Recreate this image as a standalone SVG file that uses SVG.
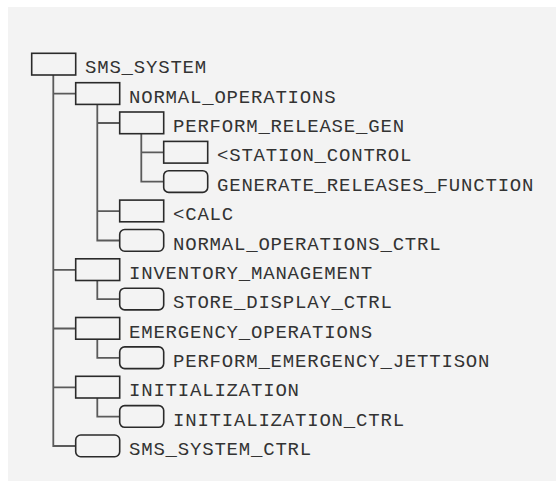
<svg xmlns="http://www.w3.org/2000/svg" width="556" height="481" viewBox="0 0 556 481">
<style>
.bx{fill:#f3f3f3;stroke:#2a2a2a;stroke-width:1.6}
.ln{fill:none;stroke:#5a5a5a;stroke-width:1.8}
.t{font-family:"Liberation Mono","DejaVu Sans Mono",monospace;font-size:19px;letter-spacing:0.8px;fill:#333}
</style>
<rect x="0" y="0" width="556" height="481" fill="#ffffff"/>
<rect x="8" y="7" width="548" height="474" fill="#f3f3f3"/>
<g id="connectors">
<path class="ln" d="M53.3,75 V446 H75.7 M53.3,93.7 H75.7 M53.3,269.8 H75.7 M53.3,328.5 H75.7 M53.3,387.3 H75.7"/>
<path class="ln" d="M97.3,104.4 V240.5 H119.7 M97.3,123 H119.7 M97.3,211.1 H119.7"/>
<path class="ln" d="M141.3,133.7 V181.7 H163.7 M141.3,152.4 H163.7"/>
<path class="ln" d="M97.3,280.5 V299.2 H119.7"/>
<path class="ln" d="M97.3,339.2 V357.9 H119.7"/>
<path class="ln" d="M97.3,398 V416.6 H119.7"/>
</g>
<g id="n0"><rect class="bx" x="31.7" y="53.3" width="44" height="21.7"/><text class="t" x="85" y="73.3">SMS_SYSTEM</text></g>
<g id="n1"><rect class="bx" x="75.7" y="82.7" width="44" height="21.7"/><text class="t" x="129" y="102.7">NORMAL_OPERATIONS</text></g>
<g id="n2"><rect class="bx" x="119.7" y="112" width="44" height="21.7"/><text class="t" x="173" y="132">PERFORM_RELEASE_GEN</text></g>
<g id="n3"><rect class="bx" x="163.7" y="141.4" width="44" height="21.7"/><text class="t" x="217" y="161.4">&lt;STATION_CONTROL</text></g>
<g id="n4"><rect class="bx" x="163.7" y="170.7" width="44" height="21.7" rx="5"/><text class="t" x="217" y="190.7">GENERATE_RELEASES_FUNCTION</text></g>
<g id="n5"><rect class="bx" x="119.7" y="200.1" width="44" height="21.7"/><text class="t" x="173" y="220.1">&lt;CALC</text></g>
<g id="n6"><rect class="bx" x="119.7" y="229.5" width="44" height="21.7" rx="5"/><text class="t" x="173" y="249.5">NORMAL_OPERATIONS_CTRL</text></g>
<g id="n7"><rect class="bx" x="75.7" y="258.8" width="44" height="21.7"/><text class="t" x="129" y="278.8">INVENTORY_MANAGEMENT</text></g>
<g id="n8"><rect class="bx" x="119.7" y="288.2" width="44" height="21.7" rx="5"/><text class="t" x="173" y="308.2">STORE_DISPLAY_CTRL</text></g>
<g id="n9"><rect class="bx" x="75.7" y="317.5" width="44" height="21.7"/><text class="t" x="129" y="337.5">EMERGENCY_OPERATIONS</text></g>
<g id="n10"><rect class="bx" x="119.7" y="346.9" width="44" height="21.7" rx="5"/><text class="t" x="173" y="366.9">PERFORM_EMERGENCY_JETTISON</text></g>
<g id="n11"><rect class="bx" x="75.7" y="376.3" width="44" height="21.7"/><text class="t" x="129" y="396.3">INITIALIZATION</text></g>
<g id="n12"><rect class="bx" x="119.7" y="405.6" width="44" height="21.7" rx="5"/><text class="t" x="173" y="425.6">INITIALIZATION_CTRL</text></g>
<g id="n13"><rect class="bx" x="75.7" y="435" width="44" height="21.7" rx="5"/><text class="t" x="129" y="455">SMS_SYSTEM_CTRL</text></g>
</svg>
